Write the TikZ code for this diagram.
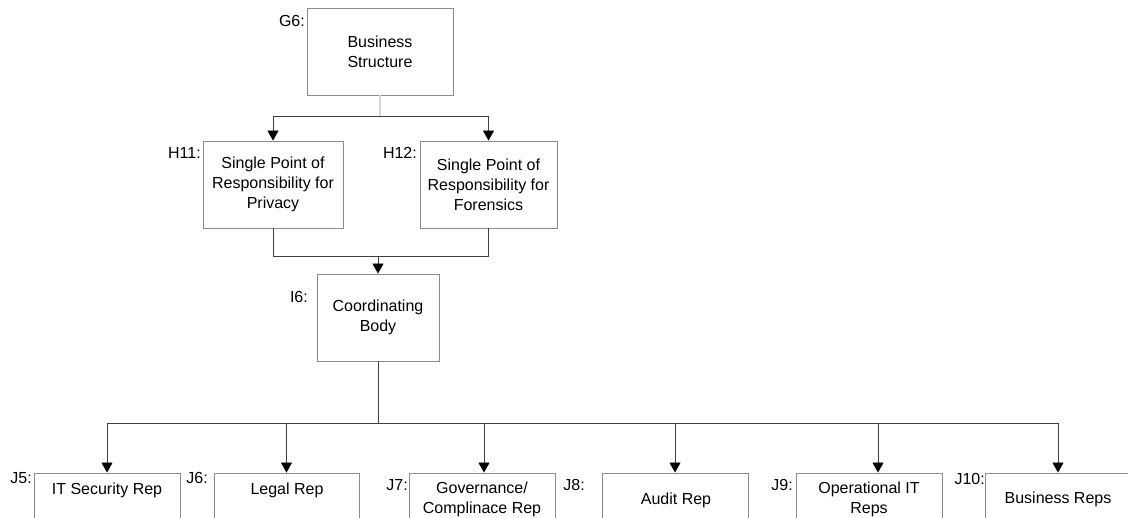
\documentclass[tikz,border=0pt]{standalone}
\usepackage{fontspec}
\setmainfont{Liberation Sans}
\usetikzlibrary{arrows.meta}
\definecolor{boxgray}{HTML}{8C8C8C}
\definecolor{linegray}{HTML}{404040}
\definecolor{stubgray}{HTML}{D8D8D8}
\begin{document}
\begin{tikzpicture}[x=1pt,y=-1pt,
  every node/.style={font=\fontsize{16}{20}\selectfont, inner sep=0pt},
  box/.style={draw=boxgray, line width=0.9pt, fill=white, align=center,
              minimum height=87pt},
  tag/.style={anchor=base east},
  txt/.style={align=center},
  conn/.style={draw=linegray, line width=0.85pt},
  arr/.style={conn, -{Triangle[width=11pt,length=10pt,color=black]}},
  stub/.style={draw=stubgray, line width=1.2pt}]
\path[use as bounding box, clip] (0,0) rectangle (1128,518);
\fill[white] (0,0) rectangle (1128,518);

% upper levels
\node[box, minimum width=146pt] (g6) at (380,51.5) {Business\\Structure};
\node[box, minimum width=140pt] (h11) at (273,184.5) {Single Point of\\Responsibility for\\Privacy};
\node[box, minimum width=137pt] (h12) at (488.5,184.5) {Single Point of\\Responsibility for\\Forensics};
\node[box, minimum width=122pt] (i6) at (378,317.5) {Coordinating\\Body};

\node[tag] (lg6) at (305,27) {G6:};
\node[tag] (lh11) at (201,158.5) {H11:};
\node[tag] (lh12) at (417,158.5) {H12:};
\node[tag] (li6) at (308,303) {I6:};

% representatives row
\node[box, minimum width=146pt] (j5) at (107,516.5) {};
\node[box, minimum width=145pt] (j6) at (286.5,516.5) {};
\node[box, minimum width=146pt] (j7) at (482,516.5) {};
\node[box, minimum width=146pt] (j8) at (675,516.5) {};
\node[box, minimum width=146pt] (j9) at (869,516.5) {};
\node[box, minimum width=146pt] (j10) at (1058,516.5) {};

\node[anchor=base] (t5) at (107,494.5) {IT Security Rep};
\node[anchor=base] (t6) at (287,494.5) {Legal Rep};
\node[txt] (t7) at (482,499) {Governance/\\Complinace Rep};
\node[anchor=base] (t8) at (676,504) {Audit Rep};
\node[txt] (t9) at (869,499) {Operational IT\\Reps};
\node[anchor=base] (t10) at (1058,503.5) {Business Reps};

\node[tag] (lj5) at (32,484) {J5:};
\node[tag] (lj6) at (208,484) {J6:};
\node[tag] (lj7) at (408,491) {J7:};
\node[tag] (lj8) at (585,491) {J8:};
\node[tag] (lj9) at (793,491) {J9:};
\node[tag] (lj10) at (985,485) {J10:};

% bus levels
\coordinate (hbus) at (0,116);
\coordinate (mbus) at (0,256);
\coordinate (lbus) at (0,423);
\coordinate (j7in) at ([xshift=2pt]j7.north);
\coordinate (j9in) at ([xshift=9pt]j9.north);

% G6 -> H11, H12
\draw[stub] (g6.south) -- (g6.south |- hbus);
\draw[conn] (h11.north |- hbus) -- (h12.north |- hbus);
\draw[arr] (h11.north |- hbus) -- (h11.north);
\draw[arr] (h12.north |- hbus) -- (h12.north);

% H11, H12 -> I6
\draw[conn] (h11.south) -- (h11.south |- mbus) -- (h12.south |- mbus) -- (h12.south);
\draw[arr] (i6.north |- mbus) -- (i6.north);

% I6 -> J5 ... J10
\draw[conn] (i6.south) -- (i6.south |- lbus);
\draw[conn] (j5.north |- lbus) -- (j10.north |- lbus);
\draw[arr] (j5.north |- lbus) -- (j5.north);
\draw[arr] (j6.north |- lbus) -- (j6.north);
\draw[arr] (j7in |- lbus) -- (j7in);
\draw[arr] (j8.north |- lbus) -- (j8.north);
\draw[arr] (j9in |- lbus) -- (j9in);
\draw[arr] (j10.north |- lbus) -- (j10.north);
\end{tikzpicture}
\end{document}
